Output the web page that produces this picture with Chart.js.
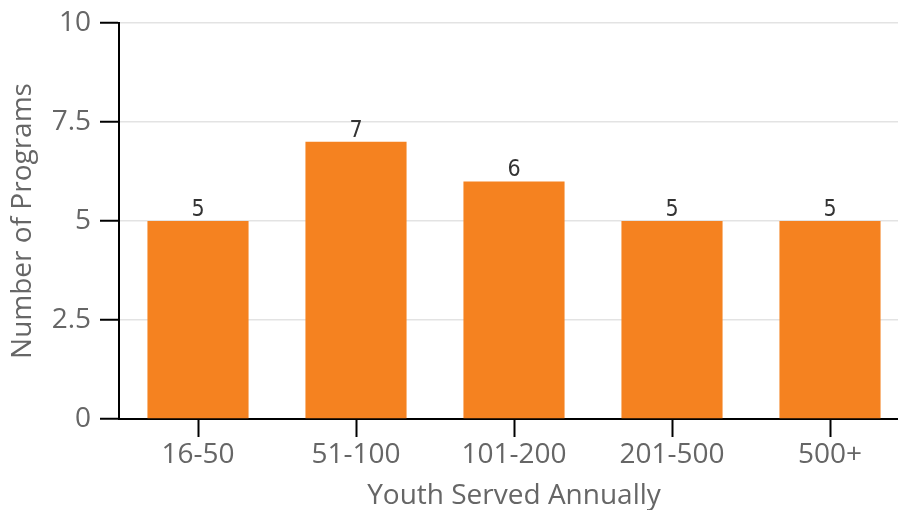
<!DOCTYPE html>
<html>
<head>
<meta charset="utf-8">
<script src="https://cdn.jsdelivr.net/npm/chart.js@4/dist/chart.umd.min.js"></script>
<style>
  html, body { margin: 0; padding: 0; background: #fff; overflow: hidden; }
  #wrap { position: relative; width: 909px; height: 510px; }
</style>
</head>
<body>
<div id="wrap"><canvas id="chart"></canvas></div>
<script>
// Programs grouped by how many youth they serve each year
const categories = ['16-50', '51-100', '101-200', '201-500', '500+'];
const programCounts = [5, 7, 6, 5, 5];
const yTicks = [0, 2.5, 5, 7.5, 10];

const axisFont = { family: '"Open Sans", sans-serif', size: 28 };

// Value labels above each bar
const barLabels = {
  id: 'barLabels',
  afterDatasetsDraw(chart) {
    const ctx = chart.ctx;
    const meta = chart.getDatasetMeta(0);
    const data = chart.data.datasets[0].data;
    ctx.save();
    ctx.font = '23px "DejaVu Sans Condensed", "Liberation Sans Narrow", sans-serif';
    ctx.fillStyle = '#333';
    ctx.textAlign = 'center';
    ctx.textBaseline = 'alphabetic';
    meta.data.forEach((bar, i) => {
      ctx.fillText(String(data[i]), bar.x, bar.y - 5);
    });
    ctx.restore();
  }
};

new Chart(document.getElementById('chart'), {
  type: 'bar',
  data: {
    labels: categories,
    datasets: [{
      data: programCounts,
      backgroundColor: '#F58220',
      borderWidth: 0,
      barPercentage: 0.64,
      categoryPercentage: 1
    }]
  },
  options: {
    responsive: true,
    maintainAspectRatio: false,
    animation: false,
    layout: { padding: { top: 23, left: 0, right: 0, bottom: 0 } },
    plugins: { legend: { display: false }, tooltip: { enabled: false } },
    scales: {
      x: {
        offset: true,
        grid: {
          offset: false,
          drawOnChartArea: false,
          tickLength: 18,
          tickColor: '#000',
          tickWidth: 2
        },
        border: { color: '#000', width: 2 },
        ticks: { color: '#666', font: axisFont, padding: 1 },
        title: {
          display: true,
          text: 'Youth Served Annually',
          color: '#666',
          font: axisFont,
          padding: { top: 0, bottom: -3 }
        },
        afterFit(scale) {
          scale.height = 91;
          scale.paddingLeft = 0;
          scale.paddingRight = 0;
        }
      },
      y: {
        min: 0,
        max: 10,
        afterBuildTicks(scale) { scale.ticks = yTicks.map(v => ({ value: v })); },
        grid: {
          color: '#e3e3e3',
          lineWidth: 1.5,
          tickLength: 19,
          tickColor: '#000',
          tickWidth: 2
        },
        border: { color: '#000', width: 2 },
        ticks: { color: '#666', font: axisFont, padding: 9 },
        title: {
          display: true,
          text: 'Number of Programs',
          color: '#666',
          font: axisFont,
          padding: { top: 6, bottom: 2 }
        },
        afterFit(scale) {
          scale.width = 119;
          scale.paddingTop = 0;
          scale.paddingBottom = 0;
        }
      }
    }
  },
  plugins: [barLabels]
});
</script>
</body>
</html>
